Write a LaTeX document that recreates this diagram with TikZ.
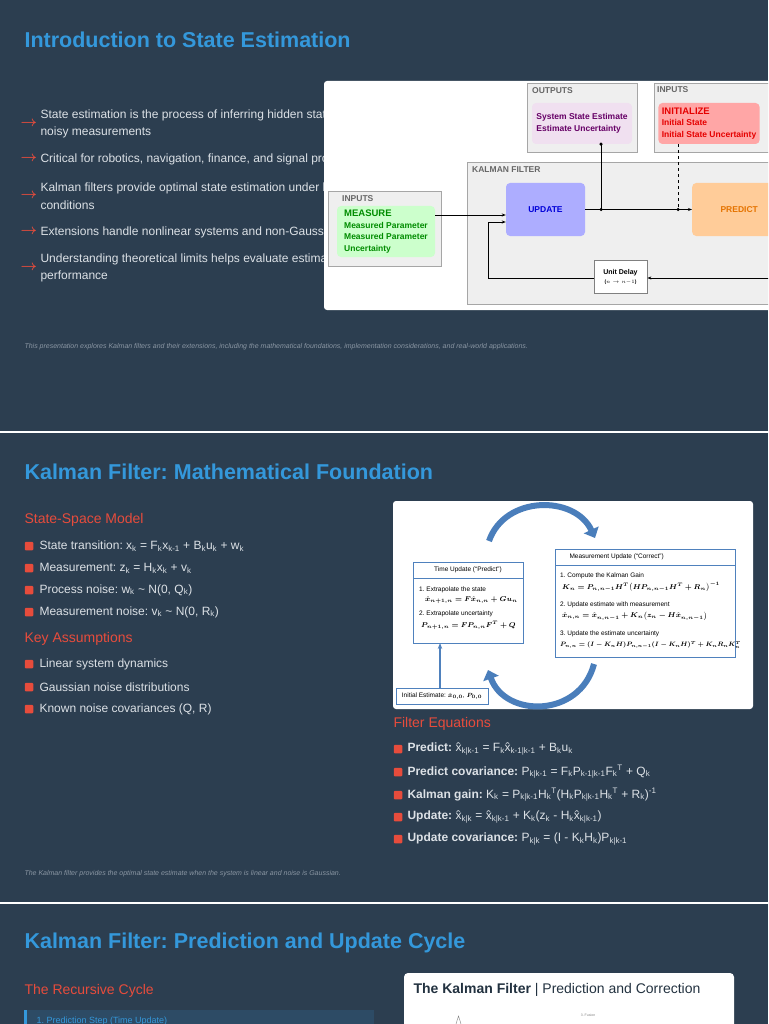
\documentclass[tikz,border=0pt]{standalone}
\usepackage{fontspec}
\usepackage{amsmath}
\usepackage{bm}
\setmainfont{Liberation Sans}
\usetikzlibrary{arrows.meta,positioning,calc}
\definecolor{slidebg}{HTML}{2C3E50}
\definecolor{titleblue}{HTML}{3498DB}
\definecolor{accent}{HTML}{E74C3C}
\definecolor{bodytxt}{HTML}{DCE1E6}
\definecolor{notetxt}{HTML}{8A96A3}
\definecolor{boxgray}{HTML}{EFEFEF}
\definecolor{boxline}{HTML}{A6A6A6}
\definecolor{kfblue}{HTML}{4F81BD}
\definecolor{arcblue}{HTML}{4A7EBB}
\newcommand{\lo}[1]{\textsubscript{#1}}
\newcommand{\hi}[1]{\textsuperscript{#1}}
\newcommand{\fs}[1]{\fontsize{#1}{#1}\selectfont}
\newcommand{\fsl}[2]{\fontsize{#1}{#2}\selectfont}
\frenchspacing
\tikzset{
    title/.style={anchor=west, text=titleblue, font=\fs{21.5}\bfseries},
    subtitle/.style={anchor=west, text=accent, font=\fs{14}},
    item/.style={anchor=west, text=bodytxt, font=\fsl{12}{17.5}, align=left},
    note/.style={anchor=west, text=notetxt, font=\fs{7}\itshape},
    square/.style={fill=accent, minimum size=8.5pt, inner sep=0pt, rounded corners=1pt},
    tip/.style={anchor=center, text=accent, font=\fs{14}\bfseries},
    grp/.style={draw=boxline, fill=boxgray, line width=1pt},
    grptxt/.style={anchor=north west, text=gray!80!black, font=\fs{8.5}\bfseries, inner sep=2pt},
    block/.style={rounded corners=4pt, font=\fsl{8.5}{11.5}\bfseries, align=left},
    wire/.style={line width=0.9pt, -{Stealth[length=4pt]}},
    dot/.style={circle, fill=black, inner sep=0pt, minimum size=3.5pt},
    kfbox/.style={draw=kfblue, fill=white, line width=1pt},
    kftxt/.style={anchor=west, font=\fs{6.5}, inner sep=0pt},
    kfeq/.style={anchor=west, font=\fs{7}, inner sep=0pt},
    arc/.style={line width=6pt, arcblue, -{Triangle[length=9pt, width=16pt]}}
}
\begin{document}
\begin{tikzpicture}[x=1pt, y=-1pt]
\fill[slidebg] (0,0) rectangle (768,1024);
\useasboundingbox (0,0) rectangle (768,1024);
\draw[white, line width=1.2pt] (0,432) -- (768,432) (0,903) -- (768,903);

% first slide
\node[title] (t1) at (21,40) {Introduction to State Estimation};
\node[tip] at (29,124) {$\boldsymbol\rightarrow$}; \node[item] at (37,124) {State estimation is the process of inferring hidden states from\\noisy measurements};
\node[tip] at (29,159) {$\boldsymbol\rightarrow$}; \node[item] at (37,159) {Critical for robotics, navigation, finance, and signal processing};
\node[tip] at (29,196) {$\boldsymbol\rightarrow$}; \node[item] at (37,196) {Kalman filters provide optimal state estimation under linear\\conditions};
\node[tip] at (29,232) {$\boldsymbol\rightarrow$}; \node[item] at (37,232) {Extensions handle nonlinear systems and non-Gaussian noise};
\node[tip] at (29,268) {$\boldsymbol\rightarrow$}; \node[item] at (37,268) {Understanding theoretical limits helps evaluate estimator\\performance};
\node[note] at (21,347) {This presentation explores Kalman filters and their extensions, including the mathematical foundations, implementation considerations, and real-world applications.};

% block diagram
\fill[white, rounded corners=3pt] (324,81) rectangle (772,310);
\begin{scope}
\clip (324,81) rectangle (768,310);
\draw[grp] (527,84) rectangle (637,153);
\node[grptxt] at (530,85) {OUTPUTS};
\node[block, fill=violet!12, text=violet!80!black, minimum width=100pt, minimum height=41pt] (outs) at (582,123.5) {System State Estimate\\Estimate Uncertainty};
\draw[grp] (654,84) rectangle (772,153);
\node[grptxt] at (655,84) {INPUTS};
\node[block, fill=red!35, text=red!90!black, minimum width=100pt, minimum height=41pt] (init) at (709,123.5) {\fs{9.5}INITIALIZE\\Initial State\\Initial State Uncertainty};
\draw[grp] (467,163) rectangle (772,304);
\node[grptxt] at (470,164) {KALMAN FILTER};
\draw[grp] (328,192) rectangle (441,266);
\node[grptxt] at (340,193) {INPUTS};
\node[block, fill=green!20, text=green!55!black, minimum width=98pt, minimum height=51pt] (meas) at (386,231.5) {\fs{9.5}MEASURE\\Measured Parameter\\Measured Parameter\\Uncertainty};
\node[block, fill=blue!32, text=blue!85!black, minimum width=79pt, minimum height=53pt, align=center] (upd) at (545.5,209.5) {UPDATE};
\node[block, fill=orange!40, text=orange!90!black, minimum width=80pt, minimum height=53pt, anchor=west] (pred) at (692,209.5) {\hspace{14pt}PREDICT};
\node[draw=gray, fill=white, line width=0.8pt, font=\fsl{7}{9}\bfseries, align=center, minimum width=53pt, minimum height=33pt] (delay) at (620.5,276.5) {Unit Delay\\{\fs{5}($n\rightarrow n{-}1$)}};
\coordinate (tap1) at (601,209.5);
\coordinate (tap2) at (678,209.5);
\coordinate (right) at (772,278);
\coordinate (back) at (488,278);
\draw[wire] (meas.east |- 0,215) -- (upd.west |- 0,215);
\draw[wire] (upd.east) -- (pred.west);
\draw[line width=0.9pt] (tap1) -- (tap1 |- outs.south) node[dot] {};
\draw[line width=0.9pt, dashed] (tap2 |- init.south) -- (tap2);
\node[dot] at (tap1) {}; \node[dot] at (tap2) {};
\draw[wire] (right) -- (delay.east |- right);
\draw[wire] (delay.west |- right) -- (back) -- (488,222) -- (upd.west |- 0,222);
\end{scope}

% second slide
\node[title] (t2) at (21,472) {Kalman Filter: Mathematical Foundation};
\node[subtitle] at (21,520) {State-Space Model};
\node[square] at (29,546) {}; \node[item] at (36,546) {State transition: x\lo{k} = F\lo{k}x\lo{k-1} + B\lo{k}u\lo{k} + w\lo{k}};
\node[square] at (29,568) {}; \node[item] at (36,568) {Measurement: z\lo{k} = H\lo{k}x\lo{k} + v\lo{k}};
\node[square] at (29,590) {}; \node[item] at (36,590) {Process noise: w\lo{k} \textasciitilde{} N(0, Q\lo{k})};
\node[square] at (29,612) {}; \node[item] at (36,612) {Measurement noise: v\lo{k} \textasciitilde{} N(0, R\lo{k})};
\node[subtitle] at (21,639) {Key Assumptions};
\node[square] at (29,664) {}; \node[item] at (36,664) {Linear system dynamics};
\node[square] at (29,687) {}; \node[item] at (36,687) {Gaussian noise distributions};
\node[square] at (29,709) {}; \node[item] at (36,709) {Known noise covariances (Q, R)};

% predict-correct figure
\fill[white, rounded corners=3pt] (393,501) rectangle (753,709);
\draw[kfbox] (413,562) rectangle (523,643);
\draw[kfblue, line width=1pt] (413,578) -- (523,578);
\node[font=\fs{6.5}] (tu) at (468,570) {Time Update (``Predict'')};
\node[kftxt] (tu1) at (419,590) {1. Extrapolate the state};
\node[kfeq] (tu1e) at (425,600) {$\bm{\hat x_{n+1,n}=F\hat x_{n,n}+Gu_n}$};
\node[kftxt] (tu2) at (419,614) {2. Extrapolate uncertainty};
\node[kfeq] (tu2e) at (421,625) {$\bm{P_{n+1,n}=FP_{n,n}F^T+Q}$};
\draw[kfbox] (555,549) rectangle (735,657);
\draw[kfblue, line width=1pt] (555,565) -- (735,565);
\node[font=\fs{6.5}, anchor=west] (mu) at (566,557) {Measurement Update (``Correct'')};
\node[kftxt] (mu1) at (560,576) {1. Compute the Kalman Gain};
\node[kfeq] (mu1e) at (562,587) {$\bm{K_n=P_{n,n-1}H^T\big(HP_{n,n-1}H^T+R_n\big)^{-1}}$};
\node[kftxt] (mu2) at (560,605) {2. Update estimate with measurement};
\node[kfeq] (mu2e) at (562,616) {$\bm{\hat x_{n,n}=\hat x_{n,n-1}+K_n\big(z_n-H\hat x_{n,n-1}\big)}$};
\node[kftxt] (mu3) at (560,634) {3. Update the estimate uncertainty};
\node[kfeq, transform shape, scale=0.9] (mu3e) at (560,645) {$\bm{P_{n,n}=(I-K_nH)P_{n,n-1}(I-K_nH)^T+K_nR_nK_n^T}$};
\node[draw=kfblue, fill=white, line width=1pt, font=\fs{6.5}, minimum width=92pt, minimum height=16pt, inner sep=1pt] (init0) at (442,696) {Initial Estimate: $\bm{\hat x_{0,0}}$, $\bm{P_{0,0}}$};
\draw[kfblue, line width=1.2pt, -{Stealth[length=6pt]}] (init0.north -| 440,0) -- (440,643);
\draw[arc] (489,541) .. controls (505,495) and (575,495) .. (595,538);
\draw[arc] (594,664) .. controls (580,718) and (505,718) .. (488,670);

\node[subtitle] at (390,724) {Filter Equations};
\node[square] at (398,749) {}; \node[item] at (404,749) {\textbf{Predict:} x̂\lo{k|k-1} = F\lo{k}x̂\lo{k-1|k-1} + B\lo{k}u\lo{k}};
\node[square] at (398,772) {}; \node[item] at (404,772) {\textbf{Predict covariance:} P\lo{k|k-1} = F\lo{k}P\lo{k-1|k-1}F\lo{k}\hi{T} + Q\lo{k}};
\node[square] at (398,795) {}; \node[item] at (404,795) {\textbf{Kalman gain:} K\lo{k} = P\lo{k|k-1}H\lo{k}\hi{T}(H\lo{k}P\lo{k|k-1}H\lo{k}\hi{T} + R\lo{k})\hi{-1}};
\node[square] at (398,817) {}; \node[item] at (404,817) {\textbf{Update:} x̂\lo{k|k} = x̂\lo{k|k-1} + K\lo{k}(z\lo{k} - H\lo{k}x̂\lo{k|k-1})};
\node[square] at (398,839) {}; \node[item] at (404,839) {\textbf{Update covariance:} P\lo{k|k} = (I - K\lo{k}H\lo{k})P\lo{k|k-1}};
\node[note] at (21,874) {The Kalman filter provides the optimal state estimate when the system is linear and noise is Gaussian.};

% third slide
\node[title] (t3) at (21,943) {Kalman Filter: Prediction and Update Cycle};
\node[subtitle] at (21,991) {The Recursive Cycle};
\fill[slidebg!85!titleblue] (24,1010) rectangle (374,1030);
\fill[titleblue] (24,1010) rectangle (27,1030);
\node[anchor=west, text=titleblue, font=\fs{9}] (step1) at (33,1021) {1. Prediction Step (Time Update)};
\fill[white, rounded corners=4pt] (404,973) rectangle (734,1034);
\node[anchor=west, text=slidebg!80!black, font=\fs{14}] (pc) at (410,990) {\textbf{The Kalman Filter} | Prediction and Correction};
\node[font=\fs{3.5}, text=gray] (fus) at (588,1015) {3. Fusion};
\draw[gray, line width=0.4pt] (456,1024) -- (458.5,1016) -- (461,1024);
\end{tikzpicture}
\end{document}
